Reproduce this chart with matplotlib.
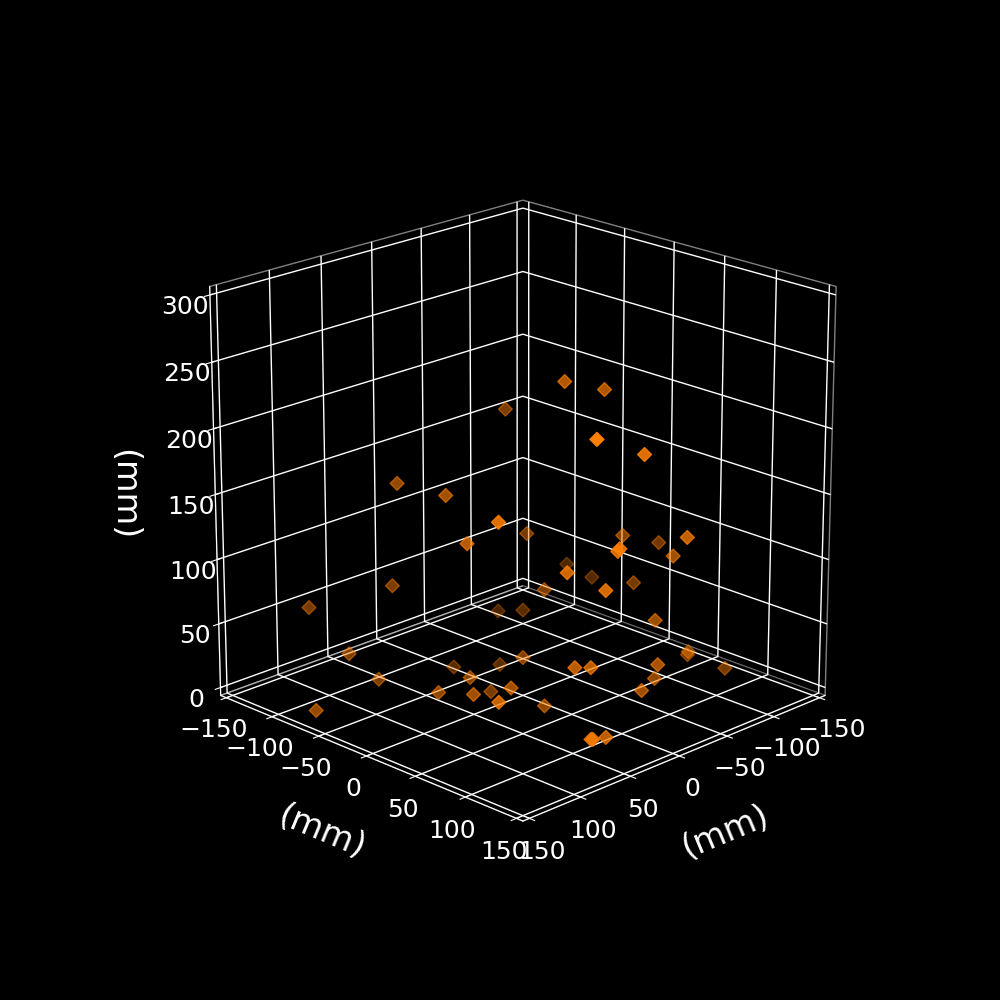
import matplotlib
matplotlib.use("Agg")
from matplotlib import pyplot as plt

X = [105, 59, 50, -28, -18, -38, 39, -9, 79, 63, -23, 62, -56, -91, -39, -57, 12, 11, -72, 37, -77, -70, -16, 26, -30, -30, -40, 100, 11, -9, 15, 46, 85, 33, 25, -25, -82, -90, -101, -40, -17, 70, 27, 68, 49, 87, 20, 142, 40, 39, 30]
Y = [-115, -69, -28, -46, 24, 44, 111, 111, 55, 7, -19, -72, 46, 49, 125, 95, 106, 107, -26, 81, -5, 44, 6, 108, -56, -30, 94, -78, 11, -33, -57, -8, -63, 85, 93, 111, 88, 80, 107, 94, 103, -16, -6, 18, 37, 63, 42, -68, 108, 109, 113]
Z = [60, 156, 155, 197, 237, 231, 229, 206, 164, 131, 109, 77, 116, 102, 140, 113, 138, 140, 70, 122, 64, 75, 74, 113, 36, 44, 68, 33, 30, 6, 4, 19, 13, 50, 50, 43, 30, 23, 17, 23, 23, 12, 3, 20, 25, 33, 4, 4, 4, 4, 4]

plt.style.use("dark_background")
plt.rcParams["grid.linewidth"] = 1.0
fig = plt.figure(figsize=(10, 10), dpi=100)
ax = fig.add_subplot(projection="3d")
ax.view_init(elev=20, azim=45)
ax.set_xlim(-150, 150, view_margin=1/48)
ax.set_ylim(-150, 150, view_margin=1/48)
ax.set_zlim(0, 300, view_margin=1/48)
ax.set_box_aspect((1, 1, 1), zoom=0.95)

for axis in (ax.xaxis, ax.yaxis, ax.zaxis):
    axis.pane.set_facecolor((0, 0, 0, 1))
    axis.pane.set_edgecolor("white")
    axis.set_rotate_label(True)
ax.zaxis.set_rotate_label(False)

ax.set_xlabel("(mm)", fontsize=24, labelpad=20)
ax.set_ylabel("(mm)", fontsize=24, labelpad=20)
ax.set_zlabel("(mm)", fontsize=24, labelpad=22, rotation=-90)
ax.tick_params(labelsize=18)

ax.scatter(X, Y, Z, c="#ff7f00", marker="D", s=50)
fig.savefig("out.png", dpi=100)
